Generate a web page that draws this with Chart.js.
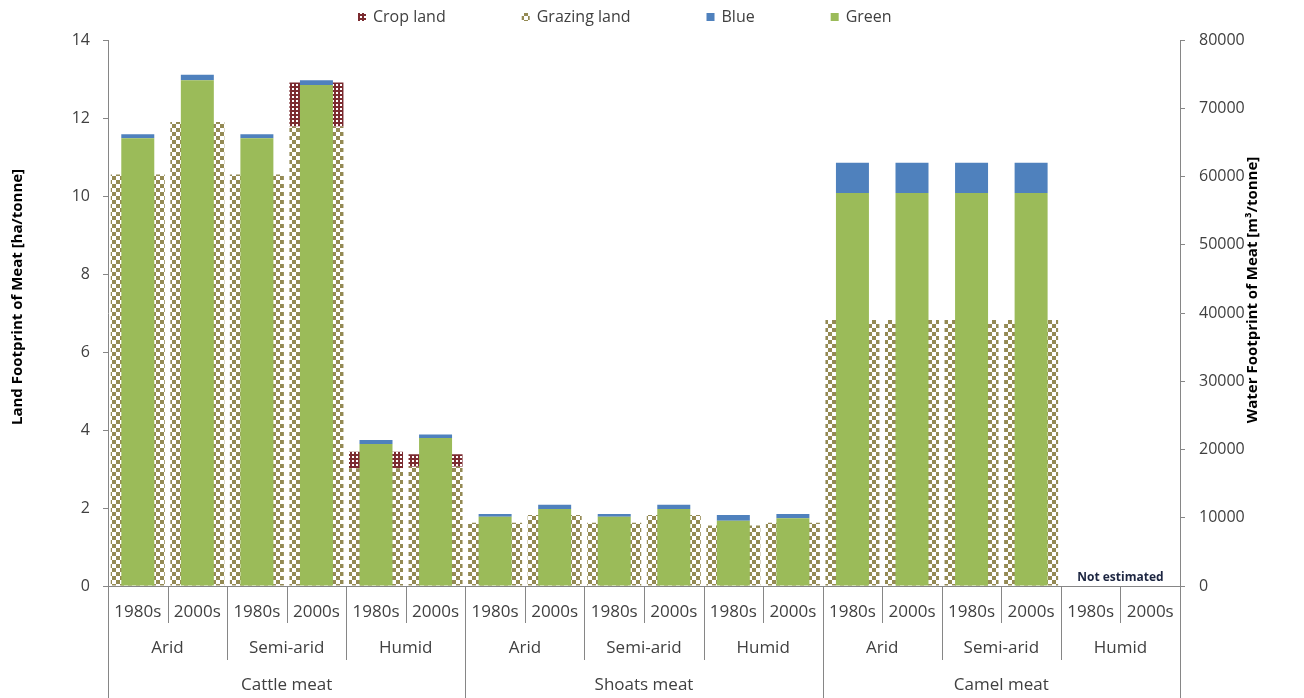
<!DOCTYPE html>
<html>
<head>
<meta charset="utf-8">
<script src="https://cdn.jsdelivr.net/npm/chart.js@4.4.1/dist/chart.umd.min.js"></script>
<style>
  html, body { margin: 0; padding: 0; background: #ffffff; }
  #wrap { width: 1304px; height: 698px; }
</style>
</head>
<body>
<div id="wrap"><canvas id="chart" width="1304" height="698"></canvas></div>
<script>
// Category hierarchy: meat type > climate zone > decade
const meats = ['Cattle meat', 'Shoats meat', 'Camel meat'];
const climates = ['Arid', 'Semi-arid', 'Humid'];
const decades = ['1980s', '2000s'];

// Land footprint [ha/tonne] (left axis)
const cropLand    = [0, 0, 0, 1.13, 0.42, 0.32,  0, 0, 0, 0, 0, 0,  0, 0, 0, 0, null, null];
const grazingLand = [10.55, 11.9, 10.55, 11.78, 3.02, 3.06,  1.62, 1.82, 1.62, 1.82, 1.55, 1.62,  6.82, 6.82, 6.82, 6.82, null, null];

// Water footprint [m3/tonne] (right axis)
const greenWater = [65600, 74100, 65600, 73400, 20800, 21700,  10150, 11280, 10150, 11280, 9570, 9910,  57600, 57600, 57600, 57600, null, null];
const blueWater  = [600, 800, 600, 700, 600, 500,  400, 620, 400, 620, 830, 640,  4400, 4400, 4400, 4400, null, null];

const landTitle = 'Land Footprint of Meat [ha/tonne]';
const waterTitle = 'Water Footprint of Meat [m\u00B3/tonne]';
const missingNote = 'Not estimated';

const labels = [];
meats.forEach(() => climates.forEach(() => decades.forEach(d => labels.push(d))));

const FONT = "'Open Sans', 'Noto Sans', sans-serif";
const AXIS_GREY = '#868686';
const TEXT_GREY = '#404040';

function checker(color, cell, bg) {
  const c = document.createElement('canvas');
  c.width = c.height = cell * 2;
  const g = c.getContext('2d');
  g.fillStyle = bg;
  g.fillRect(0, 0, cell * 2, cell * 2);
  g.fillStyle = color;
  g.fillRect(0, 0, cell, cell);
  g.fillRect(cell, cell, cell, cell);
  return g.createPattern(c, 'repeat');
}
function dotted(color) {
  const c = document.createElement('canvas');
  c.width = c.height = 4;
  const g = c.getContext('2d');
  g.fillStyle = color;
  g.fillRect(0, 0, 4, 4);
  g.fillStyle = '#ffffff';
  g.fillRect(0, 0, 2, 2);
  return g.createPattern(c, 'repeat');
}

const cropFill = dotted('#7b2b30');
const grazingFill = checker('#948a54', 4, '#ffffff');

// Custom drawing: legend, multi-level category axis, axis titles, note
const decorations = {
  id: 'decorations',
  afterDraw(chart) {
    const { ctx, chartArea: a, scales: { x } } = chart;
    const n = labels.length;
    const step = (x.getPixelForValue(n - 1) - x.getPixelForValue(0)) / (n - 1);
    const first = x.getPixelForValue(0) - step / 2;
    ctx.save();

    // category axis line and group separators
    ctx.strokeStyle = AXIS_GREY;
    ctx.lineWidth = 1;
    ctx.beginPath();
    ctx.moveTo(a.left, Math.round(a.bottom) + 0.5);
    ctx.lineTo(a.right, Math.round(a.bottom) + 0.5);
    for (let i = 0; i <= n; i++) {
      const bx = Math.round(first + i * step) + 0.5;
      const depth = i % 6 === 0 ? chart.height - a.bottom : (i % 2 === 0 ? 74 : 37);
      ctx.moveTo(bx, a.bottom);
      ctx.lineTo(bx, a.bottom + depth);
    }
    ctx.stroke();

    // climate and meat group labels
    ctx.fillStyle = TEXT_GREY;
    ctx.font = '17px ' + FONT;
    ctx.textAlign = 'center';
    ctx.textBaseline = 'middle';
    meats.forEach((m, mi) => {
      climates.forEach((c, ci) => {
        const i0 = mi * 6 + ci * 2;
        const cx = (x.getPixelForValue(i0) + x.getPixelForValue(i0 + 1)) / 2;
        ctx.fillText(c, cx, a.bottom + 62);
      });
      const cx = (x.getPixelForValue(mi * 6) + x.getPixelForValue(mi * 6 + 5)) / 2;
      ctx.fillText(m, cx, a.bottom + 99);
    });

    // note over the categories without estimates
    ctx.font = 'bold 12px ' + FONT;
    ctx.fillStyle = '#1c2541';
    const nx = (x.getPixelForValue(n - 2) + x.getPixelForValue(n - 1)) / 2;
    ctx.fillText(missingNote, nx, a.bottom - 8);

    // axis titles
    ctx.fillStyle = '#000000';
    ctx.font = 'bold 15px ' + FONT;
    ctx.save();
    ctx.translate(18, 297);
    ctx.rotate(-Math.PI / 2);
    ctx.fillText(landTitle, 0, 0);
    ctx.restore();
    ctx.save();
    ctx.translate(1253, 290);
    ctx.rotate(-Math.PI / 2);
    ctx.fillText(waterTitle, 0, 0);
    ctx.restore();

    // legend
    ctx.font = '16px ' + FONT;
    ctx.textAlign = 'left';
    const box = 8, gapText = 7, gapItem = 76;
    const items = chart.data.datasets.map(ds => ({ text: ds.label, fill: ds.backgroundColor, w: box + gapText + ctx.measureText(ds.label).width }));
    const total = items.reduce((s, it) => s + it.w, 0) + gapItem * (items.length - 1);
    let lx = Math.round(a.left + a.width * 0.482 - total / 2);
    const ly = 17;
    items.forEach(it => {
      ctx.fillStyle = it.fill;
      ctx.fillRect(lx, ly - box / 2, box, box);
      ctx.fillStyle = TEXT_GREY;
      ctx.fillText(it.text, lx + box + gapText, ly);
      lx += it.w + gapItem;
    });

    ctx.restore();
  }
};

const tickFont = { family: FONT, size: 17 };

new Chart(document.getElementById('chart'), {
  type: 'bar',
  data: {
    labels: labels,
    datasets: [
      { label: 'Crop land', data: cropLand, backgroundColor: cropFill, yAxisID: 'yLand', stack: 'land', order: 3, barPercentage: 0.907, categoryPercentage: 1 },
      { label: 'Grazing land', data: grazingLand, backgroundColor: grazingFill, yAxisID: 'yLand', stack: 'land', order: 2, barPercentage: 0.907, categoryPercentage: 1 },
      { label: 'Blue', data: blueWater, backgroundColor: '#4f81bd', yAxisID: 'yWater', stack: 'water', order: 1, barPercentage: 0.554, categoryPercentage: 1 },
      { label: 'Green', data: greenWater, backgroundColor: '#9bbb59', yAxisID: 'yWater', stack: 'water', order: 0, barPercentage: 0.554, categoryPercentage: 1 }
    ]
  },
  options: {
    responsive: false,
    animation: false,
    devicePixelRatio: 1,
    grouped: false,
    layout: { padding: { top: 40, right: 52, bottom: 0, left: 0 } },
    plugins: {
      legend: { display: false },
      tooltip: { enabled: false }
    },
    scales: {
      x: {
        grid: { display: false, drawTicks: false },
        border: { display: false },
        ticks: { autoSkip: false, maxRotation: 0, padding: 16, color: TEXT_GREY, font: tickFont },
        afterFit: s => { s.height = 112; }
      },
      yLand: {
        position: 'left',
        stacked: true,
        min: 0, max: 14,
        ticks: { stepSize: 2, padding: 13, color: TEXT_GREY, font: { family: FONT, size: 16 } },
        grid: { drawOnChartArea: false, drawTicks: true, tickLength: 5, color: AXIS_GREY },
        border: { display: true, color: AXIS_GREY },
        afterFit: s => { s.width = 108; }
      },
      yWater: {
        position: 'right',
        stacked: true,
        min: 0, max: 80000,
        ticks: { stepSize: 10000, padding: 14, color: TEXT_GREY, font: { family: FONT, size: 16 }, callback: v => String(v) },
        grid: { drawOnChartArea: false, drawTicks: true, tickLength: 5, color: AXIS_GREY },
        border: { display: true, color: AXIS_GREY },
        afterFit: s => { s.width = 72; }
      }
    }
  },
  plugins: [decorations]
});
</script>
</body>
</html>
